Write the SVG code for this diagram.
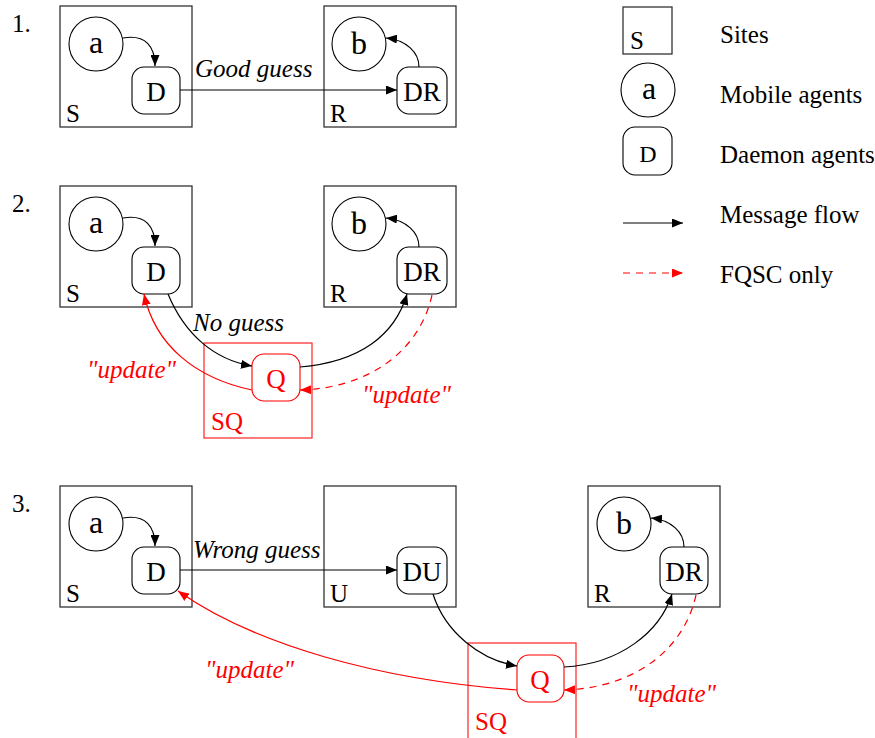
<svg xmlns="http://www.w3.org/2000/svg" width="875" height="738" viewBox="0 0 875 738">
<defs>
<style>
text{font-family:'Liberation Serif','Times New Roman',Times,'Nimbus Roman','Nimbus Roman No9 L',Tinos,FreeSerif,'Noto Serif','DejaVu Serif',serif;fill:#000}
.site{fill:none;stroke:#333;stroke-width:1.3}
.sq{fill:none;stroke:#f33;stroke-width:1.3}
.agent{fill:#fff;stroke:#000;stroke-width:1.1}
.dm{fill:#fff;stroke:#000;stroke-width:1.1}
.dmr{fill:#fff;stroke:#f00;stroke-width:1.1}
.lbl{font-size:25px}
.al{font-size:32px;text-anchor:middle}
.dl{font-size:27px;text-anchor:middle}
.ld{font-size:24px;text-anchor:middle}
.it{font-size:25px;font-style:italic}
.red{fill:#f00}
.num{font-size:25px}
.e{fill:none;stroke:#000;stroke-width:1.2;marker-end:url(#ab)}
.er{fill:none;stroke:#f00;stroke-width:1.2;marker-end:url(#ar)}
.ed{fill:none;stroke:#f00;stroke-width:1.2;stroke-dasharray:7,6;marker-end:url(#ar)}
</style>
<marker id="ab" markerUnits="userSpaceOnUse" markerWidth="11" markerHeight="9" refX="11" refY="4.5" orient="auto"><path d="M0,0 L11,4.5 L0,9 z" fill="#000"/></marker>
<marker id="ar" markerUnits="userSpaceOnUse" markerWidth="11" markerHeight="9" refX="11" refY="4.5" orient="auto"><path d="M0,0 L11,4.5 L0,9 z" fill="#f00"/></marker>
</defs>
<rect width="875" height="738" fill="#fff"/>

<!-- Panel numbers -->
<text class="num" x="12" y="32">1.</text>
<text class="num" x="12" y="212">2.</text>
<text class="num" x="12" y="512">3.</text>

<!-- Panel 1 -->
<g id="p1-siteS"><rect class="site" x="60" y="6" width="132" height="121"/><text class="lbl" x="66" y="122">S</text></g>
<g id="p1-a"><circle class="agent" cx="96" cy="44" r="27"/><text class="al" x="96" y="53">a</text></g>
<g id="p1-D"><rect class="dm" x="132" y="67" width="48" height="47" rx="12"/><text class="dl" x="156" y="101">D</text></g>
<g id="p1-siteR"><rect class="site" x="324" y="6" width="132" height="121"/><text class="lbl" x="330" y="122">R</text></g>
<g id="p1-b"><circle class="agent" cx="359" cy="44" r="27"/><text class="al" x="359" y="54">b</text></g>
<g id="p1-DR"><rect class="dm" x="397" y="67" width="50" height="47" rx="12"/><text class="dl" x="422" y="101">DR</text></g>

<!-- Panel 2 -->
<g id="p2-siteS"><rect class="site" x="60" y="186" width="132" height="121"/><text class="lbl" x="66" y="302">S</text></g>
<g id="p2-a"><circle class="agent" cx="96" cy="224" r="27"/><text class="al" x="96" y="233">a</text></g>
<g id="p2-D"><rect class="dm" x="132" y="247" width="48" height="47" rx="12"/><text class="dl" x="156" y="281">D</text></g>
<g id="p2-siteR"><rect class="site" x="324" y="186" width="132" height="121"/><text class="lbl" x="330" y="302">R</text></g>
<g id="p2-b"><circle class="agent" cx="359" cy="224" r="27"/><text class="al" x="359" y="234">b</text></g>
<g id="p2-DR"><rect class="dm" x="397" y="247" width="50" height="47" rx="12"/><text class="dl" x="422" y="281">DR</text></g>
<g id="p2-siteSQ"><rect class="sq" x="204" y="343" width="108" height="95"/><text class="lbl red" x="211" y="430">SQ</text></g>
<g id="p2-Q"><rect class="dmr" x="252" y="354" width="48" height="47" rx="12"/><text class="dl red" x="276" y="388">Q</text></g>

<!-- Panel 3 -->
<g id="p3-siteS"><rect class="site" x="60" y="486" width="132" height="121"/><text class="lbl" x="66" y="602">S</text></g>
<g id="p3-a"><circle class="agent" cx="96" cy="524" r="27"/><text class="al" x="96" y="533">a</text></g>
<g id="p3-D"><rect class="dm" x="132" y="547" width="48" height="47" rx="12"/><text class="dl" x="156" y="581">D</text></g>
<g id="p3-siteU"><rect class="site" x="324" y="486" width="132" height="121"/><text class="lbl" x="330" y="602">U</text></g>
<g id="p3-DU"><rect class="dm" x="397" y="547" width="50" height="47" rx="12"/><text class="dl" x="422" y="581">DU</text></g>
<g id="p3-siteR"><rect class="site" x="588" y="486" width="132" height="121"/><text class="lbl" x="594" y="602">R</text></g>
<g id="p3-b"><circle class="agent" cx="624" cy="524" r="27"/><text class="al" x="624" y="534">b</text></g>
<g id="p3-DR"><rect class="dm" x="660" y="547" width="48" height="47" rx="12"/><text class="dl" x="684" y="581">DR</text></g>
<g id="p3-siteSQ"><rect class="sq" x="468" y="643" width="108" height="110"/><text class="lbl red" x="475" y="730">SQ</text></g>
<g id="p3-Q"><rect class="dmr" x="517" y="655" width="47" height="47" rx="12"/><text class="dl red" x="540" y="689">Q</text></g>

<!-- Connectors -->
<g id="connectors">
<path class="e" d="M123,38 C146,34 155,47 155,66"/>
<path class="e" d="M419,67 C419,52 406,40 386,38"/>
<path class="e" d="M180,90 L397,90"/>

<path class="e" d="M123,218 C146,214 155,227 155,246"/>
<path class="e" d="M419,247 C419,232 406,220 386,218"/>
<path class="e" d="M168,294 C185,335 215,360 252,366"/>
<path class="e" d="M300,367 C360,362 395,335 407,294"/>
<path class="er" d="M252,390 C195,378 155,345 144,294"/>
<path class="ed" d="M432,295 C420,350 370,388 300,390"/>

<path class="e" d="M123,518 C146,514 155,527 155,546"/>
<path class="e" d="M684,547 C684,532 671,520 651,518"/>
<path class="e" d="M180,570 L397,570"/>
<path class="e" d="M433,594 C445,632 480,660 517,666"/>
<path class="e" d="M564,667 C620,664 660,632 672,594"/>
<path class="er" d="M517,690 C380,680 255,645 178,591"/>
<path class="ed" d="M696,595 C684,650 634,688 564,690"/>
</g>

<!-- Edge labels -->
<text class="it" x="195" y="77">Good guess</text>
<text class="it" x="193" y="331">No guess</text>
<text class="it red" x="87" y="378">"update"</text>
<text class="it red" x="362" y="403">"update"</text>
<text class="it" x="193" y="558">Wrong guess</text>
<text class="it red" x="205" y="678">"update"</text>
<text class="it red" x="627" y="702">"update"</text>

<!-- Legend -->
<g id="legend">
<g id="leg-site"><rect class="site" x="623" y="7" width="49" height="47"/><text class="lbl" x="630" y="49">S</text></g>
<g id="leg-agent"><circle class="agent" cx="648" cy="90" r="27"/><text class="al" x="649" y="99">a</text></g>
<g id="leg-daemon"><rect class="dm" x="623" y="127" width="49" height="48" rx="12"/><text class="ld" x="648" y="162">D</text></g>
<path d="M623,223 L683,223" fill="none" stroke="#000" stroke-width="1.2" marker-end="url(#ab)"/>
<path d="M623,273 L683,273" fill="none" stroke="#f00" stroke-width="1.2" stroke-dasharray="7,6" marker-end="url(#ar)"/>
<text class="lbl" x="720" y="43">Sites</text>
<text class="lbl" x="720" y="103">Mobile agents</text>
<text class="lbl" x="720" y="163">Daemon agents</text>
<text class="lbl" x="720" y="223">Message flow</text>
<text class="lbl" x="720" y="283">FQSC only</text>
</g>
</svg>
